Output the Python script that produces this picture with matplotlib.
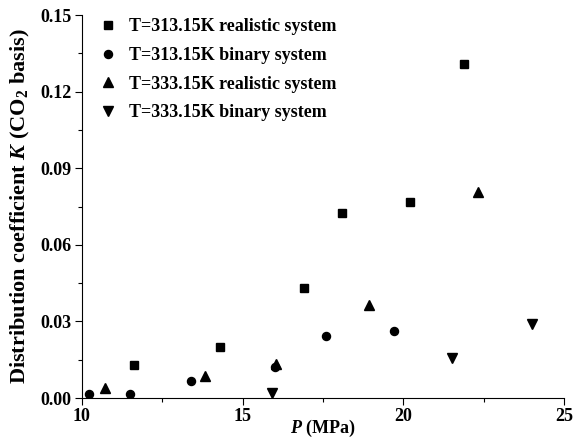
import matplotlib
matplotlib.use('Agg')
from matplotlib import pyplot as plt
from matplotlib.ticker import MultipleLocator, FormatStrFormatter

plt.rcParams['font.family'] = ['Liberation Serif', 'DejaVu Serif']
plt.rcParams['font.weight'] = 'bold'
plt.rcParams['mathtext.fontset'] = 'custom'
plt.rcParams['mathtext.rm'] = 'Liberation Serif:bold'
plt.rcParams['mathtext.it'] = 'Liberation Serif:italic:bold'
plt.rcParams['mathtext.bf'] = 'Liberation Serif:bold'

# T=313.15K realistic system
p_313_real = [11.61, 14.29, 16.91, 18.10, 20.21, 21.90]
k_313_real = [0.0130, 0.0199, 0.0431, 0.0725, 0.0768, 0.1307]
# T=313.15K binary system
p_313_bin = [10.21, 11.50, 13.39, 16.00, 17.61, 19.71]
k_313_bin = [0.0015, 0.0015, 0.0067, 0.0123, 0.0243, 0.0264]
# T=333.15K realistic system
p_333_real = [10.73, 13.84, 16.03, 18.92, 22.33]
k_333_real = [0.0041, 0.0086, 0.0134, 0.0365, 0.0808]
# T=333.15K binary system
p_333_bin = [15.93, 21.52, 24.01]
k_333_bin = [0.0021, 0.0158, 0.0291]

labels = ['T=313.15K realistic system', 'T=313.15K binary system',
          'T=333.15K realistic system', 'T=333.15K binary system']

fig = plt.figure(figsize=(5.73, 4.41), dpi=100)
ax = fig.add_axes([0.143, 0.0975, 0.841, 0.868])

ax.plot(p_313_real, k_313_real, 's', color='k', markersize=5.3, linestyle='none', label=labels[0])
ax.plot(p_313_bin, k_313_bin, 'o', color='k', markersize=5.8, linestyle='none', label=labels[1])
ax.plot(p_333_real, k_333_real, '^', color='k', markersize=7, linestyle='none', label=labels[2])
ax.plot(p_333_bin, k_333_bin, 'v', color='k', markersize=7, linestyle='none', label=labels[3])

ax.set_xlim(10, 25)
ax.set_ylim(0, 0.15)
ax.xaxis.set_major_locator(MultipleLocator(5))
ax.xaxis.set_minor_locator(MultipleLocator(2.5))
ax.yaxis.set_major_locator(MultipleLocator(0.03))
ax.yaxis.set_minor_locator(MultipleLocator(0.015))
ax.yaxis.set_major_formatter(FormatStrFormatter('%.2f'))

for s in ['top', 'right']:
    ax.spines[s].set_visible(False)
ax.tick_params(which='major', direction='out', length=5, width=0.8, labelsize=13, pad=2.5)
ax.tick_params(which='minor', direction='out', length=3, width=0.8)
for lab in ax.get_xticklabels() + ax.get_yticklabels():
    lab.set_fontweight('bold')

ax.set_xlabel('$P$ (MPa)', fontsize=13, fontweight='bold')
ax.xaxis.set_label_coords(0.5, -0.052)
ax.set_ylabel('Distribution coefficient $K$ (CO$_2$ basis)', fontsize=16, fontweight='bold')
ax.yaxis.set_label_coords(-0.104, 0.5)

ax.legend(loc='upper left', bbox_to_anchor=(0.035, 0.992), frameon=False, fontsize=13,
          handlelength=1.0, handletextpad=0.7, labelspacing=0.65,
          borderaxespad=0, borderpad=0)

fig.savefig('out.png', dpi=100)
